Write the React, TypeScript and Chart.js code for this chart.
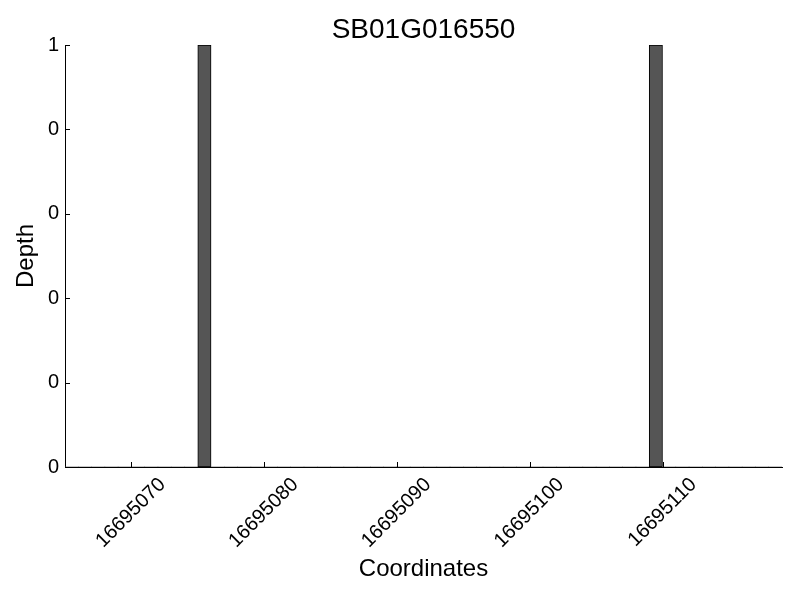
import { useEffect, useRef } from "react";
import { Chart, registerables } from "chart.js";

Chart.register(...registerables);

const chartTitle = "SB01G016550";
const xAxisTitle = "Coordinates";
const yAxisTitle = "Depth";

// genomic coordinates covered by the plot (one bar per coordinate)
const coordinates = [
  16695065, 16695066, 16695067, 16695068, 16695069, 16695070, 16695071, 16695072, 16695073,
  16695074, 16695075, 16695076, 16695077, 16695078, 16695079, 16695080, 16695081, 16695082,
  16695083, 16695084, 16695085, 16695086, 16695087, 16695088, 16695089, 16695090, 16695091,
  16695092, 16695093, 16695094, 16695095, 16695096, 16695097, 16695098, 16695099, 16695100,
  16695101, 16695102, 16695103, 16695104, 16695105, 16695106, 16695107, 16695108, 16695109,
  16695110, 16695111, 16695112, 16695113, 16695114, 16695115, 16695116, 16695117, 16695118,
];
const depths = [
  0, 0, 0, 0, 0, 0, 0, 0, 0,
  0, 1, 0, 0, 0, 0, 0, 0, 0,
  0, 0, 0, 0, 0, 0, 0, 0, 0,
  0, 0, 0, 0, 0, 0, 0, 0, 0,
  0, 0, 0, 0, 0, 0, 0, 0, 1,
  0, 0, 0, 0, 0, 0, 0, 0, 0,
];

const xMin = 16695065;
const xMax = 16695119;
const xTickValues = [16695070, 16695080, 16695090, 16695100, 16695110];
const yTickValues = [0, 0.2, 0.4, 0.6, 0.8, 1];
const yTickLabels = ["0", "0", "0", "0", "0", "1"];

const FAMILY = "'Liberation Sans', Arial, Helvetica, sans-serif";

const inwardTicks = {
  id: "inwardTicks",
  afterDatasetsDraw(chart: any) {
    const { ctx, chartArea, scales } = chart;
    ctx.save();
    ctx.strokeStyle = "#000";
    ctx.lineWidth = 1;
    ctx.beginPath();
    for (const v of xTickValues) {
      const px = Math.round(scales.x.getPixelForValue(v)) + 0.5;
      ctx.moveTo(px, chartArea.bottom);
      ctx.lineTo(px, chartArea.bottom - 5);
    }
    for (const v of yTickValues) {
      const py = Math.round(scales.y.getPixelForValue(v)) + 0.5;
      ctx.moveTo(chartArea.left, py);
      ctx.lineTo(chartArea.left + 5, py);
    }
    ctx.stroke();
    ctx.restore();
  },
};

export default function App() {
  const canvasRef = useRef<HTMLCanvasElement | null>(null);

  useEffect(() => {
    if (!canvasRef.current) return;
    const chart = new Chart(canvasRef.current, {
      type: "bar",
      data: {
        datasets: [
          {
            data: coordinates.map((c, i) => ({ x: c + 0.5, y: depths[i] })),
            backgroundColor: "#555555",
            borderColor: "#000000",
            borderWidth: (ctx: any) => (ctx.raw && ctx.raw.y > 0 ? 1 : 0),
            borderSkipped: false,
            barPercentage: 1,
            categoryPercentage: 1,
          },
        ],
      },
      plugins: [inwardTicks],
      options: {
        responsive: false,
        animation: false,
        devicePixelRatio: 1,
        layout: { padding: { left: 0, right: 18, top: 0, bottom: 0 } },
        plugins: {
          legend: { display: false },
          tooltip: { enabled: false },
          title: {
            display: true,
            text: chartTitle,
            fullSize: false,
            color: "#000",
            font: { size: 28, weight: "normal", family: FAMILY, lineHeight: 1 },
            padding: { top: 16, bottom: 1 },
          },
        },
        scales: {
          x: {
            type: "linear",
            min: xMin,
            max: xMax,
            offset: false,
            afterBuildTicks: (s: any) => {
              s.ticks = xTickValues.map((v) => ({ value: v }));
            },
            afterFit: (s: any) => {
              s.height = 133;
            },
            grid: { display: false, drawOnChartArea: false, drawTicks: false },
            border: { display: true, color: "#000", width: 1 },
            ticks: {
              color: "#000",
              font: { size: 20, family: FAMILY },
              minRotation: 45,
              maxRotation: 45,
              autoSkip: false,
              padding: 6,
              labelOffset: 31,
              callback: (v: any) => String(v),
            },
            title: {
              display: true,
              text: xAxisTitle,
              color: "#000",
              font: { size: 24, family: FAMILY },
              padding: { top: 0, bottom: 16 },
            },
          },
          y: {
            type: "linear",
            min: 0,
            max: 1,
            afterBuildTicks: (s: any) => {
              s.ticks = yTickValues.map((v) => ({ value: v }));
            },
            afterFit: (s: any) => {
              s.width = 65;
            },
            grid: { display: false, drawOnChartArea: false, drawTicks: false },
            border: { display: true, color: "#000", width: 1 },
            ticks: {
              color: "#000",
              font: { size: 20, family: FAMILY },
              padding: 6,
              autoSkip: false,
              callback: (_v: any, i: number) => yTickLabels[i],
            },
            title: {
              display: true,
              text: yAxisTitle,
              color: "#000",
              font: { size: 24, family: FAMILY },
              padding: { top: 12, bottom: 0 },
            },
          },
        },
      } as any,
    });
    return () => chart.destroy();
  }, []);

  return (
    <div style={{ position: "fixed", left: 0, top: 0, width: 800, height: 600, background: "#fff" }}>
      <canvas ref={canvasRef} width={800} height={600} />
    </div>
  );
}
